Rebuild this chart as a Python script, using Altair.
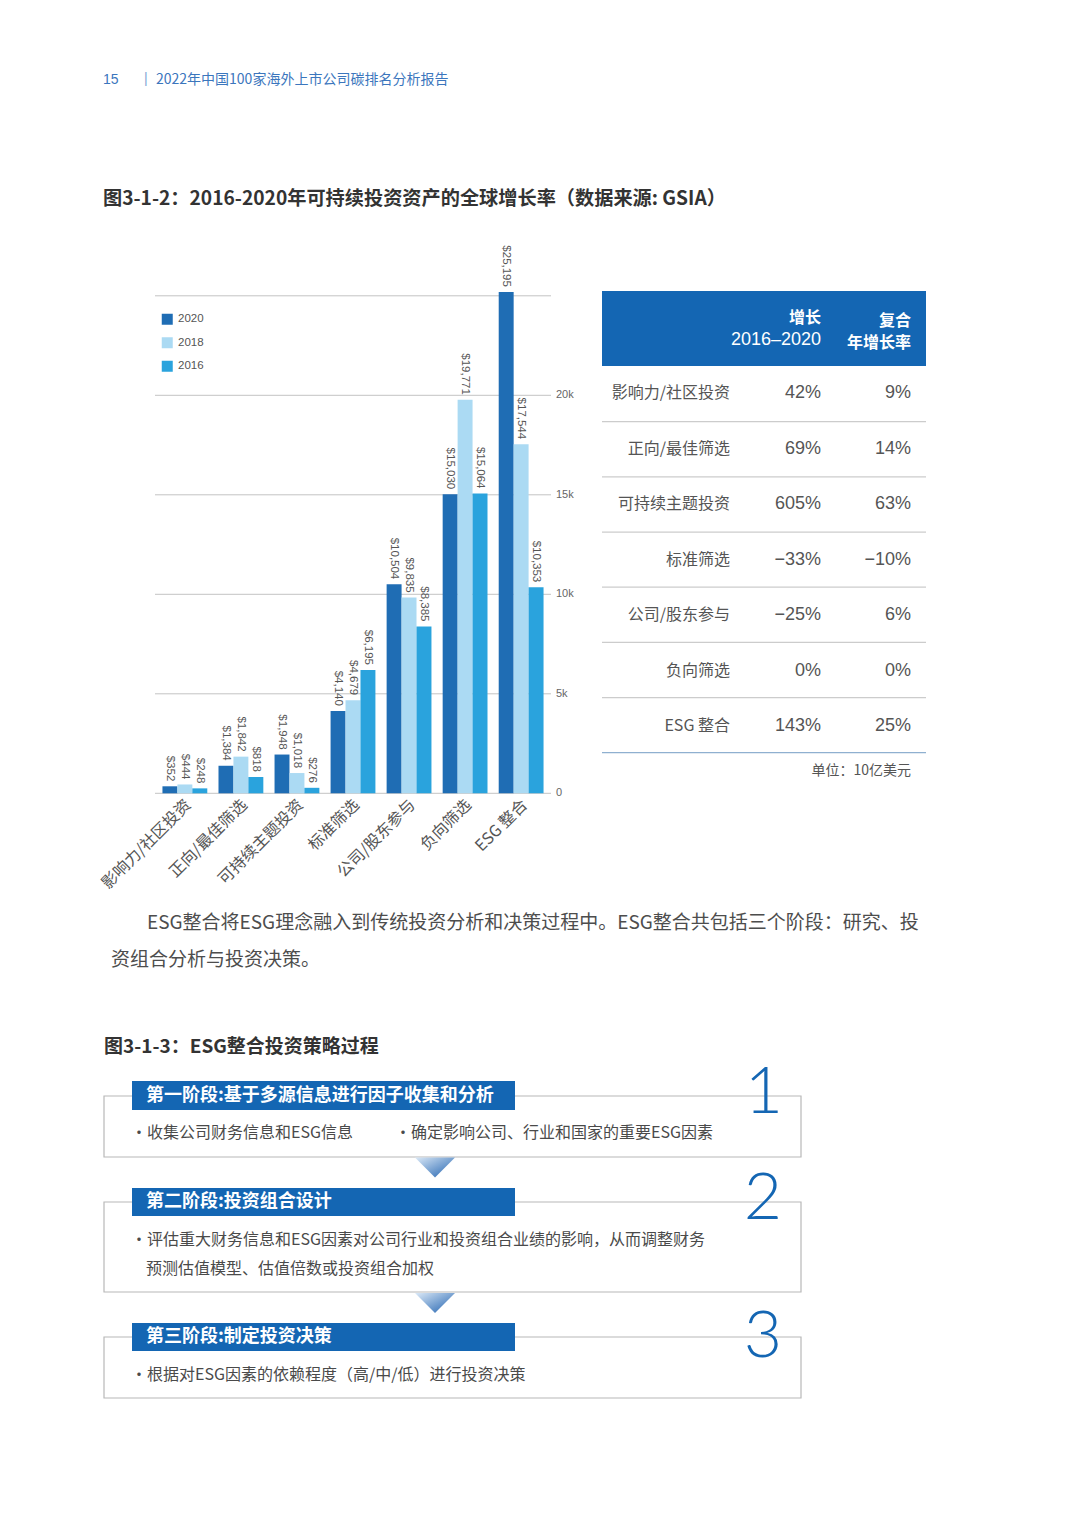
import altair as alt
import pandas as pd

# ---------------- data ----------------
categories = ["影响力/社区投资", "正向/最佳筛选", "可持续主题投资", "标准筛选",
              "公司/股东参与", "负向筛选", "ESG 整合"]
years = ["2020", "2018", "2016"]
assets_2020 = [352, 1384, 1948, 4140, 10504, 15030, 25195]
assets_2018 = [444, 1842, 1018, 4679, 9835, 19771, 17544]
assets_2016 = [248, 818, 276, 6195, 8385, 15064, 10353]
grid_values = [0, 5000, 10000, 15000, 20000, 25000]
tick_values = [0, 5000, 10000, 15000, 20000]
tick_labels = ["0", "5k", "10k", "15k", "20k"]

table_rows = ["影响力/社区投资", "正向/最佳筛选", "可持续主题投资", "标准筛选",
              "公司/股东参与", "负向筛选", "ESG 整合"]
growth_2016_2020 = ["42%", "69%", "605%", "−33%", "−25%", "0%", "143%"]
cagr = ["9%", "14%", "63%", "−10%", "6%", "0%", "25%"]

page_no = "15"
report_title = "2022年中国100家海外上市公司碳排名分析报告"
fig1_title = "图3-1-2：2016-2020年可持续投资资产的全球增长率（数据来源: GSIA）"
unit_text = "单位：10亿美元"
para_line1 = "ESG整合将ESG理念融入到传统投资分析和决策过程中。ESG整合共包括三个阶段：研究、投"
para_line2 = "资组合分析与投资决策。"
fig2_title = "图3-1-3：ESG整合投资策略过程"
stage_titles = ["第一阶段:基于多源信息进行因子收集和分析", "第二阶段:投资组合设计", "第三阶段:制定投资决策"]
stage_numbers = ["1", "2", "3"]
stage1_items = ["・收集公司财务信息和ESG信息", "・确定影响公司、行业和国家的重要ESG因素"]
stage2_items = ["・评估重大财务信息和ESG因素对公司行业和投资组合业绩的影响，从而调整财务",
                "预测估值模型、估值倍数或投资组合加权"]
stage3_items = ["・根据对ESG因素的依赖程度（高/中/低）进行投资决策"]

year_colors = ["#1f6db4", "#abdaf3", "#2aa3dd"]

# ---------------- helpers ----------------
OFF = 8
LAT = "Liberation Sans, Noto Sans CJK SC"
CJK = "Noto Sans CJK SC, Liberation Sans"
BLUE = "#1466b3"
one = pd.DataFrame({"k": [0]})


def px(v):
    return v - OFF


def txt(s, x, y, size, color="#555555", weight="normal", align="left", font=CJK):
    return alt.Chart(one).mark_text(
        text=s, align=align, baseline="middle", fontSize=size,
        fontWeight=weight, color=color, font=font
    ).encode(x=alt.value(px(x)), y=alt.value(px(y)))


def box(x1, y1, x2, y2, fill, stroke=None, sw=1.0):
    kw = dict(fill=fill)
    if stroke:
        kw.update(stroke=stroke, strokeWidth=sw)
    return alt.Chart(one).mark_rect(**kw).encode(
        x=alt.value(px(x1)), x2=alt.value(px(x2)),
        y=alt.value(px(y1)), y2=alt.value(px(y2)))


# ---------------- bar chart ----------------
recs = []
for yr, vals in zip(years, [assets_2020, assets_2018, assets_2016]):
    for c, v in zip(categories, vals):
        recs.append({"category": c, "year": yr, "value": v})
bars_df = pd.DataFrame(recs)

x_scale = alt.Scale(range=[px(155), px(551)], paddingInner=0.2, paddingOuter=0.133)
y_scale = alt.Scale(domain=[0, 25000], range=[px(793.3), px(295.8)], nice=False)

X = alt.X("category:N", sort=categories, scale=x_scale, axis=None)
XO = alt.XOffset("year:N", sort=years, scale=alt.Scale(paddingInner=0, paddingOuter=0))
Y = alt.Y("value:Q", scale=y_scale, axis=None)

grid = alt.Chart(pd.DataFrame({"v": grid_values})).mark_rule(
    color="#c4c4c4", strokeWidth=1
).encode(y=alt.Y("v:Q", scale=y_scale, axis=None), x=alt.value(px(155)), x2=alt.value(px(551)))

ticks = alt.Chart(pd.DataFrame({"v": tick_values, "t": tick_labels})).mark_text(
    align="left", baseline="middle", fontSize=11, color="#666666", font=LAT
).encode(y=alt.Y("v:Q", scale=y_scale, axis=None), x=alt.value(px(556)), text="t:N")

bars = alt.Chart(bars_df).mark_bar().encode(
    x=X, xOffset=XO, y=Y,
    color=alt.Color("year:N", sort=years,
                    scale=alt.Scale(domain=years, range=year_colors),
                    legend=alt.Legend(title=None, orient="none", legendX=px(161.5), legendY=px(313.5),
                                      symbolType="square", symbolSize=121, symbolStrokeWidth=0,
                                      labelFontSize=11.5, labelColor="#555555", labelFont=LAT,
                                      labelOffset=5, rowPadding=10.5, padding=0)),
)

vlabels = alt.Chart(bars_df).transform_calculate(
    lbl="'$' + format(datum.value, ',')"
).mark_text(angle=90, align="right", baseline="middle", dx=-5, fontSize=11.5,
            color="#555555", font=LAT).encode(x=X, xOffset=XO, y=Y, text="lbl:N")

clabels = alt.Chart(pd.DataFrame({"category": categories})).mark_text(
    angle=315, align="right", baseline="middle", dx=5, fontSize=16, color="#555555", font=CJK
).encode(x=X, y=alt.value(px(806)), text="category:N")

bar_group = alt.layer(grid, bars, vlabels, ticks, clabels)

# ---------------- table ----------------
tdf = pd.DataFrame({"i": list(range(len(table_rows))), "name": table_rows,
                    "growth": growth_2016_2020, "cagr": cagr})
row_scale = alt.Scale(type="point", domain=list(range(len(table_rows))),
                      range=[px(393.3), px(726)], padding=0)


def tcol(field, x, size, font):
    return alt.Chart(tdf).mark_text(
        align="right", baseline="middle", fontSize=size, color="#555555", font=font
    ).encode(x=alt.value(px(x)), y=alt.Y("i:O", scale=row_scale, axis=None), text=f"{field}:N")


table_text = alt.layer(tcol("name", 730, 16, CJK), tcol("growth", 821, 18, LAT), tcol("cagr", 911, 18, LAT))

sep_df = pd.DataFrame({"i": list(range(len(table_rows)))})
seps = alt.Chart(sep_df).mark_rule(strokeWidth=1.2).encode(
    y=alt.Y("i:O", scale=alt.Scale(type="point", domain=list(range(len(table_rows))),
                                   range=[px(421.7), px(752.7)], padding=0), axis=None),
    x=alt.value(px(602)), x2=alt.value(px(926)),
    color=alt.when(alt.datum.i == len(table_rows) - 1).then(alt.value("#8fb0d0")).otherwise(alt.value("#cccccc")),
)

# ---------------- flow diagram ----------------
tri_fill = {"gradient": "linear", "x1": 0, "y1": 0, "x2": 1, "y2": 1,
            "stops": [{"offset": 0, "color": "#dbe9f7"}, {"offset": 1, "color": "#1c5fae"}]}


def tri(cx, cy):
    return alt.Chart(one).mark_point(
        shape="M-1,-0.5L1,-0.5L0,0.5Z", size=1600, filled=True, fill=tri_fill,
        strokeWidth=0, opacity=1
    ).encode(x=alt.value(px(cx)), y=alt.value(px(cy)))


layers = [
    txt(page_no, 103, 80, 14, color="#3b76bd", font=LAT),
    txt("|", 144, 79, 14, color="#7fa6d6", font=LAT),
    txt(report_title, 156, 80, 14, color="#3b76bd", font=CJK),
    txt(fig1_title, 103, 199, 19.2, color="#333333", weight="bold", font=CJK),
    bar_group,
    box(602, 291, 926, 366, BLUE),
    txt("增长", 821, 318, 16, color="white", weight="bold", align="right"),
    txt("2016–2020", 821, 340, 18, color="white", align="right", font=LAT),
    txt("复合", 911, 321, 16, color="white", weight="bold", align="right"),
    txt("年增长率", 911, 343, 16, color="white", weight="bold", align="right"),
    table_text,
    seps,
    txt(unit_text, 911, 771, 14, color="#555555", align="right"),
    txt(para_line1, 147, 923, 19, color="#4d4d4d"),
    txt(para_line2, 111, 960, 19, color="#4d4d4d"),
    txt(fig2_title, 104, 1047, 19, color="#333333", weight="bold"),
    # boxes
    box(104, 1096, 801, 1157, "white", stroke="#b8b8b8", sw=1.2),
    box(104, 1202, 801, 1292, "white", stroke="#b8b8b8", sw=1.2),
    box(104, 1337, 801, 1398, "white", stroke="#b8b8b8", sw=1.2),
    box(132, 1081, 515, 1110, BLUE),
    box(132, 1188, 515, 1216, BLUE),
    box(132, 1323, 515, 1351, BLUE),
    txt(stage_titles[0], 146, 1096, 18, color="white", weight="bold"),
    txt(stage_titles[1], 146, 1202, 18, color="white", weight="bold"),
    txt(stage_titles[2], 146, 1337, 18, color="white", weight="bold"),
    txt(stage_numbers[0], 783, 1093, 66, color=BLUE, weight=300, align="right", font="Lato, Roboto"),
    txt(stage_numbers[1], 782, 1199, 66, color=BLUE, weight=300, align="right", font="Lato, Roboto"),
    txt(stage_numbers[2], 782, 1337, 66, color=BLUE, weight=300, align="right", font="Lato, Roboto"),
    txt(stage1_items[0], 131, 1133, 16, color="#4a4a4a"),
    txt(stage1_items[1], 395, 1133, 16, color="#4a4a4a"),
    txt(stage2_items[0], 131, 1240, 16, color="#4a4a4a"),
    txt(stage2_items[1], 146, 1269, 16, color="#4a4a4a"),
    txt(stage3_items[0], 131, 1375, 16, color="#4a4a4a"),
    tri(435, 1167.5),
    tri(435, 1303),
]

chart = alt.layer(*layers).resolve_scale(
    x="independent", y="independent"
).properties(
    width=1064, height=1511, padding=0,
    autosize=alt.AutoSizeParams(type="none"), background="white"
).configure_view(stroke=None)

chart.save("out.html", embed_options={"renderer": "svg", "actions": False})
